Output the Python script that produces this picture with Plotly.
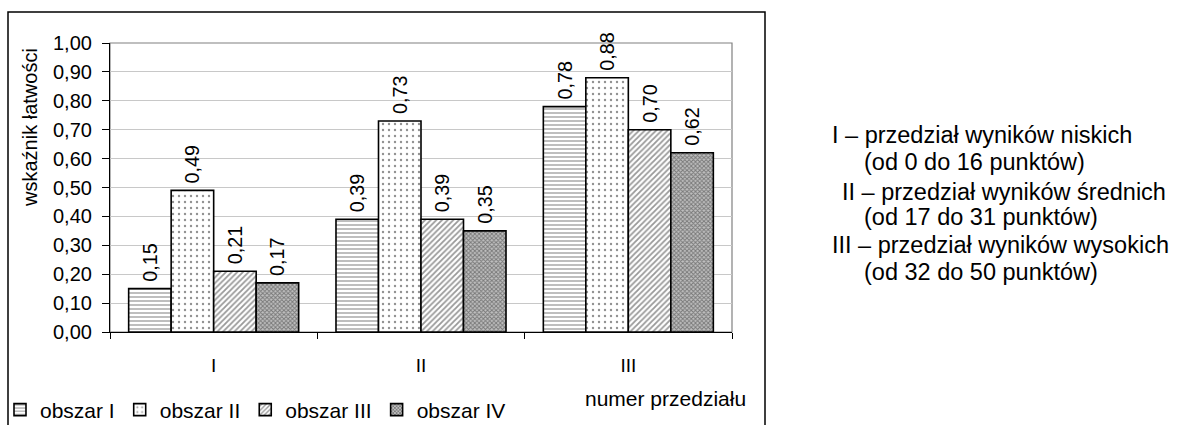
import plotly.graph_objects as go

# Przedziały wyników i wskaźniki łatwości dla czterech obszarów
przedzialy = ["I", "II", "III"]
obszar_1 = [0.15, 0.39, 0.78]
obszar_2 = [0.49, 0.73, 0.88]
obszar_3 = [0.21, 0.39, 0.70]
obszar_4 = [0.17, 0.35, 0.62]
nazwy = ["obszar I", "obszar II", "obszar III", "obszar IV"]

opisy = [
    ("I – przedział wyników niskich", 830, 135),
    ("(od 0 do 16 punktów)", 862, 162),
    ("II – przedział wyników średnich", 840, 192),
    ("(od 17 do 31 punktów)", 862, 217),
    ("III – przedział wyników wysokich", 830, 245),
    ("(od 32 do 50 punktów)", 862, 272),
]

W, H = 1178, 425
L, R, T, B = 110, 732, 43, 332
FONT = "Liberation Sans, Arial, sans-serif"

wzory = [
    dict(shape="-", size=4, solidity=0.35, fgcolor="#444444", bgcolor="white"),
    dict(shape=".", size=6, solidity=0.12, fgcolor="#222222", bgcolor="white"),
    dict(shape="/", size=4, solidity=0.45, fgcolor="#333333", bgcolor="white"),
    dict(shape="x", size=3, solidity=0.55, fgcolor="#333333", bgcolor="#c0c0c0"),
]

fig = go.Figure()
for nazwa, wartosci, wzor in zip(nazwy, [obszar_1, obszar_2, obszar_3, obszar_4], wzory):
    fig.add_trace(go.Bar(
        name=nazwa,
        x=przedzialy,
        y=wartosci,
        marker=dict(color="white", pattern=wzor, line=dict(color="black", width=1.6)),
        texttemplate="\u2009%{y:.2f}",
        textposition="outside",
        textangle=-90,
        textfont=dict(family=FONT, size=20, color="black"),
        cliponaxis=False,
    ))

def px_x(v):
    return (v - L) / (R - L)

def px_y(v):
    return (B - v) / (B - T)

# obramowanie obszaru wykresu
fig.add_shape(type="rect", xref="paper", yref="paper", x0=0, x1=1, y0=0, y1=1,
              line=dict(color="#808080", width=1.2), layer="below")
# ramka całego wykresu
fig.add_shape(type="rect", xref="paper", yref="paper",
              x0=px_x(8), x1=px_x(765), y0=px_y(440), y1=px_y(12),
              line=dict(color="black", width=1.5), layer="below")

fig.add_annotation(text="wskaźnik łatwości", xref="paper", yref="paper",
                   x=px_x(30), y=px_y(128), textangle=-90, showarrow=False,
                   xanchor="center", yanchor="middle",
                   font=dict(family=FONT, size=20, color="black"))
fig.add_annotation(text="numer przedziału", xref="paper", yref="paper",
                   x=px_x(748), y=px_y(398), showarrow=False,
                   xanchor="right", yanchor="middle",
                   font=dict(family=FONT, size=21, color="black"))
for tekst, xp, yp in opisy:
    fig.add_annotation(text=tekst, xref="paper", yref="paper",
                       x=px_x(xp), y=px_y(yp), showarrow=False,
                       xanchor="left", yanchor="middle",
                       font=dict(family=FONT, size=23.5, color="black"))

fig.update_layout(
    width=W, height=H, autosize=False,
    margin=dict(l=L, r=W - R, t=T, b=H - B, pad=0, autoexpand=False),
    paper_bgcolor="white", plot_bgcolor="white",
    separators=", ",
    barmode="group", bargap=0.18, bargroupgap=0,
    font=dict(family=FONT, size=20, color="black"),
    showlegend=True,
    legend=dict(orientation="h", xref="container", yref="container",
                x=-2 / W, y=1 - 410 / H, xanchor="left", yanchor="middle",
                font=dict(family=FONT, size=21, color="black"),
                bgcolor="rgba(0,0,0,0)", traceorder="normal"),
    xaxis=dict(type="category", range=[-0.5, 2.5], showgrid=False,
               showline=True, linecolor="black", linewidth=1.2,
               ticks="outside", tickson="boundaries", ticklen=6,
               tickcolor="black", tickwidth=1.2, ticklabelstandoff=16,
               tickfont=dict(family=FONT, size=19, color="black"),
               automargin=False),
    yaxis=dict(range=[0, 1], dtick=0.1, tick0=0, tickformat=".2f",
               showgrid=True, gridcolor="#c8c8c8", gridwidth=1,
               showline=True, linecolor="black", linewidth=1.2,
               ticks="outside", ticklen=7, tickcolor="black", tickwidth=1.2,
               ticklabelstandoff=6, zeroline=False,
               tickfont=dict(family=FONT, size=20, color="black"),
               automargin=False),
)

fig.write_html("out.html")
